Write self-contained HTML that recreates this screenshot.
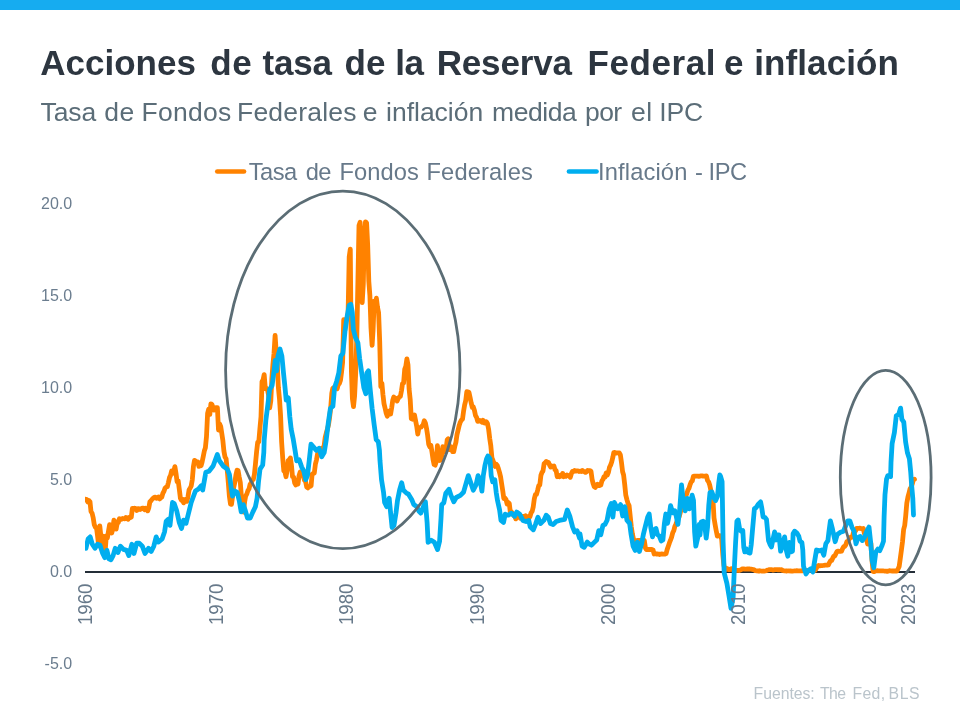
<!DOCTYPE html>
<html lang="es">
<head>
<meta charset="utf-8">
<title>Acciones de tasa de la Reserva Federal e inflación</title>
<style>
  html,body{margin:0;padding:0;background:#fff;}
  body{width:960px;height:720px;overflow:hidden;position:relative;font-family:"Liberation Sans",Arial,sans-serif;}
  .topbar{position:absolute;left:0;top:0;width:960px;height:10px;background:#16acf0;}
  svg{position:absolute;left:0;top:0;font-family:"Liberation Sans",Arial,sans-serif;}
  text{white-space:pre;}
  .t1{font-weight:bold;fill:#2d3640;}
  .t2{fill:#5b6d78;}
  .lg{fill:#67798a;}
  .yl{fill:#6b7d8f;font-size:16px;text-anchor:end;}
  .xl{fill:#67798a;font-size:18.67px;text-anchor:end;}
  .ft{fill:#bac4cb;}
</style>
</head>
<body>
<div class="topbar"></div>
<svg width="960" height="720" viewBox="0 0 960 720">
  <text class="t1" y="74.5" font-size="35.0"><tspan x="40.2" letter-spacing="0.02">Acciones </tspan><tspan x="210.2" letter-spacing="0.60">de </tspan><tspan x="262.5" letter-spacing="-0.20">tasa </tspan><tspan x="344.5" letter-spacing="0.12">de </tspan><tspan x="395.3" letter-spacing="-0.60">la </tspan><tspan x="436.7" letter-spacing="-0.16">Reserva </tspan><tspan x="587.5" letter-spacing="0.57">Federal </tspan><tspan x="724.0">e </tspan><tspan x="754.2" letter-spacing="0.10">inflación</tspan></text>
  <text class="t2" y="120.5" font-size="26.5"><tspan x="40.5" letter-spacing="-0.08">Tasa </tspan><tspan x="104.2" letter-spacing="0.60">de </tspan><tspan x="141.5" letter-spacing="0.27">Fondos </tspan><tspan x="237.0" letter-spacing="0.20">Federales </tspan><tspan x="362.8">e </tspan><tspan x="386.0">inflación </tspan><tspan x="492.0" letter-spacing="-0.44">medida </tspan><tspan x="585.0" letter-spacing="-0.60">por </tspan><tspan x="630.9" letter-spacing="0.60">el </tspan><tspan x="659.2" letter-spacing="-0.12">IPC</tspan></text>
  <text class="lg" y="180.0" font-size="23.7"><tspan x="248.7" letter-spacing="-0.52">Tasa </tspan><tspan x="305.8" letter-spacing="-0.60">de </tspan><tspan x="339.5" letter-spacing="0.07">Fondos </tspan><tspan x="426.5" letter-spacing="0.13">Federales</tspan></text>
  <text class="lg" y="180.0" font-size="23.7"><tspan x="598.0" letter-spacing="0.14">Inflación </tspan><tspan x="695.0">- </tspan><tspan x="708.5" letter-spacing="-0.44">IPC</tspan></text>
  <text class="ft" y="698.6" font-size="15.8"><tspan x="753.6" letter-spacing="-0.05">Fuentes: </tspan><tspan x="819.9" letter-spacing="-0.60">The </tspan><tspan x="852.5" letter-spacing="0.33">Fed, </tspan><tspan x="888.6" letter-spacing="0.60">BLS</tspan></text>
  <line x1="217.3" y1="171.5" x2="244" y2="171.5" stroke="#ff8200" stroke-width="4.7" stroke-linecap="round"/>
  <line x1="569" y1="171.5" x2="596.5" y2="171.5" stroke="#00aeef" stroke-width="4.7" stroke-linecap="round"/>
  <text class="yl" x="72.2" y="208.7">20.0</text>
  <text class="yl" x="72.2" y="300.7">15.0</text>
  <text class="yl" x="72.2" y="392.7">10.0</text>
  <text class="yl" x="72.2" y="484.7">5.0</text>
  <text class="yl" x="72.2" y="576.7">0.0</text>
  <text class="yl" x="72.2" y="668.7">-5.0</text>
  <clipPath id="plot"><rect x="85" y="190" width="840" height="440"/></clipPath>
  <line x1="85" y1="572.1" x2="915" y2="572.1" stroke="#242e38" stroke-width="2"/>
  <path clip-path="url(#plot)" d="M85.6,499.2 L86.7,499.6 L87.8,502.0 L88.9,500.5 L90.0,501.8 L91.0,511.5 L92.1,513.2 L93.2,517.8 L94.3,524.8 L95.4,527.2 L96.5,527.7 L97.6,536.1 L98.7,545.9 L99.8,525.9 L100.8,535.4 L101.9,545.1 L103.0,536.1 L104.1,540.7 L105.2,551.0 L106.3,535.8 L107.4,538.0 L108.5,531.0 L109.6,524.6 L110.7,529.7 L111.7,533.0 L112.8,529.0 L113.9,520.2 L115.0,521.5 L116.1,529.2 L117.2,523.3 L118.3,522.7 L119.4,518.7 L120.5,519.3 L121.5,519.3 L122.6,518.5 L123.7,518.7 L124.8,518.9 L125.9,517.4 L127.0,517.8 L128.1,519.3 L129.2,517.4 L130.3,517.6 L131.3,517.1 L132.4,508.4 L133.5,508.6 L134.6,508.2 L135.7,508.6 L136.8,510.4 L137.9,508.6 L139.0,508.6 L140.1,509.5 L141.1,508.8 L142.2,508.2 L143.3,508.2 L144.4,509.7 L145.5,508.2 L146.6,509.2 L147.7,510.8 L148.8,507.9 L149.9,501.8 L150.9,500.9 L152.0,499.4 L153.1,498.3 L154.2,497.4 L155.3,497.2 L156.4,498.3 L157.5,497.4 L158.6,496.9 L159.7,498.9 L160.8,497.6 L161.8,497.2 L162.9,493.2 L164.0,491.3 L165.1,488.0 L166.2,487.1 L167.3,486.8 L168.4,482.5 L169.5,477.6 L170.6,475.2 L171.6,471.0 L172.7,473.4 L173.8,471.0 L174.9,466.7 L176.0,473.4 L177.1,481.8 L178.2,480.7 L179.3,489.3 L180.4,498.1 L181.4,500.2 L182.5,499.4 L183.6,502.9 L184.7,500.9 L185.8,499.2 L186.9,501.3 L188.0,496.7 L189.1,489.7 L190.2,488.0 L191.2,486.0 L192.3,479.8 L193.4,466.7 L194.5,460.3 L195.6,461.1 L196.7,462.0 L197.8,461.8 L198.9,466.4 L200.0,464.0 L201.1,465.6 L202.1,462.0 L203.2,456.8 L204.3,451.1 L205.4,447.8 L206.5,436.5 L207.6,413.3 L208.7,409.1 L209.8,414.4 L210.9,403.8 L211.9,404.5 L213.0,407.3 L214.1,410.0 L215.2,407.8 L216.3,407.6 L217.4,407.6 L218.5,430.0 L219.6,423.8 L220.7,426.5 L221.7,432.8 L222.8,440.1 L223.9,451.0 L225.0,457.0 L226.1,458.7 L227.2,469.7 L228.3,482.5 L229.4,496.5 L230.5,504.2 L231.5,504.4 L232.6,496.3 L233.7,487.5 L234.8,482.4 L235.9,475.0 L237.0,470.2 L238.1,470.6 L239.2,477.0 L240.3,482.4 L241.4,496.5 L242.4,508.2 L243.5,512.1 L244.6,502.2 L245.7,495.9 L246.8,494.1 L247.9,490.6 L249.0,489.0 L250.1,484.4 L251.2,483.1 L252.2,480.0 L253.3,479.6 L254.4,474.6 L255.5,463.4 L256.6,451.7 L257.7,442.3 L258.8,441.8 L259.9,428.6 L261.0,416.6 L262.0,381.6 L263.1,379.7 L264.2,374.6 L265.3,388.7 L266.4,388.3 L267.5,389.8 L268.6,395.3 L269.7,407.8 L270.8,400.8 L271.8,379.5 L272.9,364.8 L274.0,353.5 L275.1,335.3 L276.2,352.0 L277.3,364.3 L278.4,387.8 L279.5,399.0 L280.6,415.9 L281.6,441.6 L282.7,457.9 L283.8,470.8 L284.9,471.7 L286.0,476.7 L287.1,470.6 L288.2,460.5 L289.3,459.8 L290.4,457.9 L291.5,465.6 L292.5,476.7 L293.6,477.0 L294.7,483.1 L295.8,484.9 L296.9,483.6 L298.0,484.0 L299.1,475.4 L300.2,471.9 L301.3,475.0 L302.3,475.4 L303.4,476.1 L304.5,480.3 L305.6,481.6 L306.7,487.1 L307.8,487.9 L308.9,486.6 L310.0,486.4 L311.1,485.7 L312.1,474.3 L313.2,473.5 L314.3,473.0 L315.4,464.2 L316.5,459.8 L317.6,453.7 L318.7,453.0 L319.8,452.1 L320.9,449.5 L321.9,448.0 L323.0,447.8 L324.1,446.0 L325.2,437.4 L326.3,433.0 L327.4,429.1 L328.5,424.9 L329.6,417.4 L330.7,408.0 L331.8,393.3 L332.8,388.3 L333.9,387.6 L335.0,387.8 L336.1,387.2 L337.2,388.7 L338.3,384.5 L339.4,383.6 L340.5,380.3 L341.6,371.6 L342.6,362.6 L343.7,319.7 L344.8,330.5 L345.9,319.5 L347.0,318.8 L348.1,313.1 L349.2,256.9 L350.3,249.2 L351.4,370.9 L352.4,398.6 L353.5,406.7 L354.6,396.1 L355.7,372.9 L356.8,337.3 L357.9,281.5 L359.0,225.5 L360.1,222.2 L361.2,280.0 L362.2,302.6 L363.3,283.9 L364.4,232.5 L365.5,221.8 L366.6,222.9 L367.7,245.3 L368.8,281.1 L369.9,295.6 L371.0,328.1 L372.1,345.4 L373.1,329.8 L374.2,301.1 L375.3,303.0 L376.4,298.2 L377.5,307.2 L378.6,312.7 L379.7,341.3 L380.8,386.7 L381.9,383.2 L382.9,394.2 L384.0,403.6 L385.1,408.2 L386.2,413.1 L387.3,416.3 L388.4,411.5 L389.5,410.9 L390.6,414.1 L391.7,407.6 L392.7,400.5 L393.8,397.0 L394.9,399.0 L396.0,398.4 L397.1,401.0 L398.2,398.6 L399.3,397.0 L400.4,396.4 L401.5,390.6 L402.5,383.6 L403.6,383.0 L404.7,369.4 L405.8,366.3 L406.9,358.8 L408.0,365.0 L409.1,389.1 L410.2,399.4 L411.3,418.6 L412.4,419.2 L413.4,416.4 L414.5,415.0 L415.6,420.7 L416.7,426.2 L417.8,434.2 L418.9,427.8 L420.0,427.5 L421.1,427.1 L422.2,425.8 L423.2,424.7 L424.3,420.7 L425.4,423.0 L426.5,428.2 L427.6,435.2 L428.7,444.2 L429.8,446.7 L430.9,445.4 L432.0,452.1 L433.0,459.2 L434.1,464.4 L435.2,465.1 L436.3,461.6 L437.4,445.6 L438.5,454.4 L439.6,460.5 L440.7,460.0 L441.8,455.5 L442.8,446.7 L443.9,448.9 L445.0,451.7 L446.1,448.9 L447.2,439.9 L448.3,438.7 L449.4,449.7 L450.5,448.2 L451.6,447.1 L452.6,451.7 L453.7,451.7 L454.8,446.4 L455.9,442.3 L457.0,434.6 L458.1,430.2 L459.2,425.4 L460.3,422.1 L461.4,420.1 L462.5,419.2 L463.5,411.7 L464.6,405.1 L465.7,400.7 L466.8,391.7 L467.9,391.8 L469.0,392.4 L470.1,397.5 L471.2,402.9 L472.3,407.4 L473.3,406.9 L474.4,410.2 L475.5,415.5 L476.6,417.4 L477.7,421.4 L478.8,421.2 L479.9,420.5 L481.0,420.8 L482.1,422.3 L483.1,420.3 L484.2,422.9 L485.3,423.2 L486.4,421.9 L487.5,423.6 L488.6,429.1 L489.7,438.3 L490.8,445.6 L491.9,457.8 L492.9,460.1 L494.0,464.0 L495.1,466.4 L496.2,464.2 L497.3,465.6 L498.4,468.6 L499.5,472.4 L500.6,476.8 L501.7,484.2 L502.8,491.2 L503.8,498.5 L504.9,498.0 L506.0,499.4 L507.1,504.0 L508.2,502.4 L509.3,503.5 L510.4,512.8 L511.5,511.9 L512.6,513.4 L513.6,515.6 L514.7,515.8 L515.8,518.9 L516.9,517.1 L518.0,516.9 L519.1,516.1 L520.2,518.2 L521.3,517.4 L522.4,516.7 L523.4,516.3 L524.5,516.9 L525.6,515.8 L526.7,517.6 L527.8,517.1 L528.9,518.2 L530.0,516.5 L531.1,512.8 L532.2,511.2 L533.2,507.1 L534.3,498.9 L535.4,494.5 L536.5,494.3 L537.6,490.4 L538.7,485.7 L539.8,485.1 L540.9,475.4 L542.0,472.4 L543.0,471.0 L544.1,463.8 L545.2,462.7 L546.3,461.4 L547.4,462.2 L548.5,462.3 L549.6,465.1 L550.7,467.1 L551.8,466.0 L552.9,466.7 L553.9,466.0 L555.0,469.7 L556.1,470.4 L557.2,476.7 L558.3,475.0 L559.4,476.7 L560.5,476.3 L561.6,475.7 L562.7,473.4 L563.7,476.7 L564.8,475.2 L565.9,476.3 L567.0,475.0 L568.1,475.4 L569.2,476.1 L570.3,477.2 L571.4,473.5 L572.5,471.3 L573.5,471.5 L574.6,470.4 L575.7,471.2 L576.8,470.8 L577.9,470.8 L579.0,471.5 L580.1,471.2 L581.2,471.5 L582.3,470.4 L583.3,471.3 L584.4,471.7 L585.5,472.4 L586.6,471.7 L587.7,470.4 L588.8,470.8 L589.9,470.6 L591.0,471.3 L592.1,479.4 L593.2,483.8 L594.2,486.6 L595.3,487.5 L596.4,485.1 L597.5,484.2 L598.6,485.5 L599.7,485.5 L600.8,485.1 L601.9,480.9 L603.0,479.4 L604.0,476.7 L605.1,477.0 L606.2,473.0 L607.3,475.2 L608.4,472.4 L609.5,467.3 L610.6,465.1 L611.7,462.0 L612.8,457.4 L613.8,452.6 L614.9,452.4 L616.0,453.2 L617.1,452.8 L618.2,453.0 L619.3,453.0 L620.4,455.0 L621.5,462.7 L622.6,471.7 L623.6,475.0 L624.7,484.4 L625.8,495.2 L626.9,499.6 L628.0,503.3 L629.1,505.5 L630.2,516.1 L631.3,526.8 L632.4,534.1 L633.5,539.1 L634.5,540.7 L635.6,540.6 L636.7,540.7 L637.8,540.4 L638.9,540.4 L640.0,540.4 L641.1,540.7 L642.2,540.6 L643.3,540.4 L644.3,540.4 L645.4,547.9 L646.5,549.7 L647.6,549.7 L648.7,549.4 L649.8,549.5 L650.9,549.4 L652.0,549.4 L653.1,550.1 L654.1,554.0 L655.2,553.6 L656.3,554.0 L657.4,554.0 L658.5,554.1 L659.6,554.5 L660.7,554.1 L661.8,554.0 L662.9,554.1 L663.9,554.1 L665.0,554.1 L666.1,553.6 L667.2,549.4 L668.3,546.2 L669.4,542.9 L670.5,540.2 L671.6,537.1 L672.7,532.8 L673.8,530.6 L674.8,526.6 L675.9,524.2 L677.0,521.3 L678.1,517.4 L679.2,516.7 L680.3,512.6 L681.4,508.2 L682.5,506.0 L683.6,503.1 L684.6,499.1 L685.7,496.1 L686.8,493.7 L687.9,490.1 L689.0,488.2 L690.1,484.6 L691.2,481.8 L692.3,480.9 L693.4,476.3 L694.4,476.1 L695.5,476.1 L696.6,476.1 L697.7,476.1 L698.8,476.3 L699.9,476.1 L701.0,475.9 L702.1,475.9 L703.2,476.1 L704.2,476.1 L705.3,476.1 L706.4,475.9 L707.5,480.3 L708.6,481.8 L709.7,485.1 L710.8,490.1 L711.9,494.7 L713.0,500.2 L714.0,517.8 L715.1,524.6 L716.2,530.6 L717.3,536.1 L718.4,535.8 L719.5,535.6 L720.6,535.8 L721.7,539.3 L722.8,554.7 L723.9,565.3 L724.9,569.6 L726.0,569.7 L727.1,568.5 L728.2,569.2 L729.3,569.7 L730.4,569.2 L731.5,568.6 L732.6,569.6 L733.7,569.6 L734.7,569.7 L735.8,570.3 L736.9,570.3 L738.0,570.3 L739.1,570.5 L740.2,570.1 L741.3,569.6 L742.4,568.8 L743.5,568.8 L744.5,569.2 L745.6,569.2 L746.7,569.0 L747.8,569.0 L748.9,569.0 L750.0,569.0 L751.1,569.2 L752.2,569.4 L753.3,569.6 L754.3,569.9 L755.4,570.7 L756.5,570.8 L757.6,570.8 L758.7,571.2 L759.8,570.7 L760.9,571.0 L762.0,571.2 L763.1,571.0 L764.2,571.2 L765.2,571.0 L766.3,570.7 L767.4,570.1 L768.5,569.9 L769.6,569.6 L770.7,569.6 L771.8,569.6 L772.9,570.1 L774.0,569.9 L775.0,569.6 L776.1,569.6 L777.2,569.6 L778.3,569.9 L779.4,569.7 L780.5,569.9 L781.6,569.7 L782.7,570.5 L783.8,570.8 L784.8,570.8 L785.9,571.0 L787.0,571.0 L788.1,570.8 L789.2,571.0 L790.3,570.8 L791.4,571.2 L792.5,571.2 L793.6,571.0 L794.6,570.8 L795.7,570.8 L796.8,570.7 L797.9,570.8 L799.0,570.8 L800.1,570.8 L801.2,570.8 L802.3,570.8 L803.4,570.3 L804.5,570.5 L805.5,570.5 L806.6,570.5 L807.7,570.3 L808.8,570.3 L809.9,570.1 L811.0,570.1 L812.1,569.9 L813.2,569.9 L814.3,570.3 L815.3,570.3 L816.4,568.1 L817.5,566.3 L818.6,565.5 L819.7,565.9 L820.8,565.7 L821.9,565.7 L823.0,565.5 L824.1,565.3 L825.1,565.2 L826.2,565.2 L827.3,565.2 L828.4,565.0 L829.5,562.6 L830.6,560.6 L831.7,560.4 L832.8,558.0 L833.9,556.0 L834.9,555.8 L836.0,553.4 L837.1,551.4 L838.2,551.2 L839.3,551.4 L840.4,551.4 L841.5,551.2 L842.6,548.6 L843.7,546.6 L844.7,546.4 L845.8,544.8 L846.9,541.5 L848.0,541.3 L849.1,539.1 L850.2,537.4 L851.3,537.4 L852.4,536.7 L853.5,532.3 L854.6,532.1 L855.6,530.8 L856.7,528.4 L857.8,528.4 L858.9,528.3 L860.0,528.1 L861.1,528.6 L862.2,528.8 L863.3,528.4 L864.4,533.4 L865.4,535.0 L866.5,538.9 L867.6,544.0 L868.7,544.0 L869.8,544.0 L870.9,543.5 L872.0,560.6 L873.1,571.6 L874.2,571.6 L875.2,571.0 L876.3,570.8 L877.4,570.7 L878.5,570.8 L879.6,570.8 L880.7,570.8 L881.8,570.8 L882.9,570.8 L884.0,571.0 L885.0,571.2 L886.1,571.2 L887.2,571.4 L888.3,571.0 L889.4,570.7 L890.5,570.8 L891.6,571.0 L892.7,571.0 L893.8,571.0 L894.9,571.0 L895.9,571.0 L897.0,571.0 L898.1,568.8 L899.2,566.4 L900.3,558.4 L901.4,550.3 L902.5,541.7 L903.6,529.7 L904.7,525.5 L905.7,516.0 L906.8,503.1 L907.9,497.2 L909.0,493.0 L910.1,488.6 L911.2,487.1 L912.3,483.8 L913.4,479.6 L914.5,479.2" fill="none" stroke="#ff8200" stroke-width="4.8" stroke-linejoin="round" stroke-linecap="round"/>
  <path clip-path="url(#plot)" d="M86.0,548.3 L88.1,539.0 L90.2,536.9 L92.3,544.2 L95.0,548.3 L97.5,544.2 L100.0,545.2 L102.7,553.5 L104.8,557.7 L106.9,550.4 L109.0,558.8 L111.0,559.8 L113.1,555.6 L115.2,548.3 L117.9,552.5 L120.4,546.2 L123.5,549.4 L126.7,550.4 L128.8,555.6 L131.9,544.2 L134.0,553.5 L136.7,543.1 L139.2,543.1 L142.3,546.2 L145.0,553.5 L148.5,548.3 L151.2,551.5 L153.8,546.2 L156.2,536.9 L158.3,542.1 L162.1,539.0 L164.6,531.7 L166.2,521.2 L168.3,519.2 L170.0,525.4 L172.5,502.5 L174.2,503.5 L176.7,510.8 L179.2,522.3 L181.5,528.5 L183.5,520.2 L186.0,523.3 L188.1,515.0 L191.2,502.5 L195.4,491.0 L198.5,489.0 L201.2,485.8 L202.7,490.0 L205.8,472.3 L209.0,471.2 L213.1,466.0 L217.3,454.6 L219.4,460.8 L222.5,465.0 L223.1,466.0 L227.3,469.2 L229.4,474.4 L231.5,490.0 L232.5,496.2 L234.6,491.0 L237.1,492.1 L239.2,500.4 L241.2,511.9 L243.3,504.6 L245.4,510.8 L247.5,518.1 L250.2,518.1 L252.9,511.9 L255.4,506.7 L257.1,498.3 L258.5,481.7 L260.0,469.2 L262.7,465.0 L263.8,452.5 L264.2,440.0 L265.8,420.8 L267.9,404.2 L269.6,389.6 L272.1,385.4 L273.8,372.9 L275.2,360.4 L276.7,370.8 L277.9,356.2 L280.0,349.0 L281.9,356.2 L283.5,372.9 L285.0,387.5 L286.2,400.0 L288.3,397.9 L289.8,416.7 L291.2,429.2 L293.3,439.6 L295.0,450.0 L296.7,460.8 L299.2,459.8 L301.7,467.1 L303.8,471.2 L305.8,479.6 L307.5,475.4 L309.2,460.8 L311.0,444.2 L313.8,447.3 L316.2,450.4 L319.0,448.3 L321.7,456.7 L324.2,452.5 L326.2,440.0 L328.3,422.9 L330.4,408.3 L332.9,406.2 L334.6,387.5 L336.7,381.2 L338.8,372.9 L340.8,356.2 L342.9,353.1 L345.0,331.2 L347.1,316.7 L349.2,305.2 L350.8,304.2 L352.3,312.5 L353.3,329.2 L355.4,337.5 L357.9,342.7 L359.6,358.3 L361.7,372.9 L363.8,387.5 L365.8,393.8 L366.9,372.9 L368.5,370.8 L370.0,387.5 L372.1,408.3 L374.2,425.0 L376.2,439.6 L378.3,441.7 L379.4,450.0 L380.0,460.8 L381.5,479.6 L383.5,492.1 L384.6,502.5 L386.7,506.7 L389.2,498.3 L390.4,510.8 L392.1,527.5 L394.0,525.4 L396.0,512.9 L397.5,500.4 L399.6,490.0 L401.7,482.7 L403.3,490.0 L406.5,493.1 L408.5,494.2 L411.7,499.4 L413.8,504.6 L416.9,506.7 L418.8,511.0 L420.8,513.1 L422.9,507.9 L425.4,501.7 L427.1,522.5 L428.1,542.3 L431.2,540.2 L434.4,542.3 L437.5,549.6 L439.6,541.2 L441.0,518.3 L441.7,504.8 L443.8,502.7 L445.8,493.3 L449.0,489.2 L451.0,495.4 L453.8,501.7 L456.2,497.5 L460.4,495.4 L463.5,492.3 L466.2,482.9 L468.3,475.6 L470.8,482.9 L473.3,490.2 L476.0,485.0 L478.1,475.6 L480.2,480.8 L481.9,491.2 L483.3,475.6 L485.0,465.2 L486.5,459.0 L487.9,456.0 L490.0,459.0 L491.2,475.6 L492.7,481.9 L494.8,479.8 L496.2,492.3 L497.5,500.6 L499.6,510.0 L501.0,520.4 L503.5,522.5 L505.2,514.2 L508.3,515.2 L511.5,513.1 L514.6,516.2 L516.7,512.1 L519.8,514.2 L522.9,520.4 L526.0,521.5 L528.8,520.4 L530.2,526.7 L533.3,529.8 L535.4,524.6 L537.9,517.3 L540.6,523.5 L543.8,520.4 L546.2,515.2 L548.3,517.3 L550.4,523.5 L553.1,524.6 L556.2,521.5 L559.4,520.4 L564.6,519.4 L567.3,510.0 L569.8,516.2 L572.5,526.7 L574.6,531.9 L577.1,530.8 L579.6,538.1 L580.0,533.8 L582.1,546.2 L584.2,547.3 L587.3,542.1 L589.4,544.2 L591.5,545.2 L593.5,543.1 L596.7,540.0 L598.8,530.6 L600.8,534.8 L602.9,525.4 L605.0,524.4 L607.1,520.2 L609.2,508.8 L611.2,503.5 L612.9,517.1 L614.4,502.5 L617.5,508.8 L620.6,504.6 L622.7,516.0 L624.8,506.7 L626.9,520.2 L629.6,523.3 L631.0,533.8 L633.1,546.2 L635.2,550.4 L637.3,542.1 L639.4,551.5 L641.5,544.2 L643.5,533.8 L645.6,525.4 L647.7,517.1 L649.2,514.0 L650.8,527.5 L652.5,536.9 L654.6,529.6 L656.0,528.5 L657.5,534.8 L659.2,535.8 L661.2,541.0 L662.9,540.0 L664.4,523.3 L665.8,514.0 L667.5,523.3 L669.2,515.0 L670.6,505.6 L672.7,512.9 L674.8,510.8 L676.2,516.0 L677.9,524.4 L679.6,510.8 L681.5,484.8 L683.1,499.4 L685.2,510.8 L687.3,498.3 L689.4,508.8 L692.1,495.2 L693.5,500.4 L694.6,531.7 L695.8,546.2 L697.7,537.9 L699.2,524.4 L700.0,535.0 L701.2,521.9 L703.1,521.2 L704.4,522.5 L706.2,538.1 L707.5,527.5 L708.8,505.0 L710.0,492.5 L711.9,491.9 L713.8,497.5 L715.6,500.6 L717.5,496.2 L718.8,482.5 L719.8,475.0 L720.6,476.5 L722.1,481.7 L723.1,541.7 L724.2,572.9 L726.9,583.3 L729.0,595.8 L731.0,608.3 L733.1,597.9 L734.6,562.5 L735.6,542.5 L736.9,521.2 L738.1,520.0 L739.8,530.0 L741.2,531.2 L742.8,530.6 L743.8,547.5 L744.8,551.9 L746.2,548.8 L748.1,552.5 L750.0,553.1 L751.2,545.0 L752.5,530.0 L754.4,508.8 L756.2,507.5 L758.1,504.4 L760.6,501.9 L761.9,508.8 L763.1,516.9 L765.0,517.5 L766.5,519.4 L767.5,530.0 L768.5,540.6 L770.0,544.4 L771.5,546.9 L773.1,538.8 L774.6,531.9 L776.2,540.0 L777.5,535.0 L779.0,535.0 L780.6,551.2 L782.5,545.0 L784.6,536.9 L786.2,550.0 L787.8,556.2 L789.4,542.5 L790.6,551.9 L792.5,551.2 L793.1,533.8 L794.6,531.2 L796.9,533.1 L798.8,536.2 L800.0,541.2 L801.9,542.5 L802.8,550.0 L803.5,566.2 L806.0,574.0 L808.1,570.8 L810.8,568.8 L812.9,571.9 L814.4,562.5 L816.5,550.0 L818.5,551.0 L821.7,550.0 L823.8,555.2 L825.8,543.8 L827.9,540.6 L829.0,531.2 L830.4,520.8 L832.5,529.2 L835.2,541.7 L837.3,534.4 L840.4,532.3 L843.5,531.2 L845.6,526.0 L847.7,520.8 L849.8,520.8 L851.9,527.1 L854.0,531.2 L856.0,543.8 L858.1,537.5 L860.2,536.5 L862.3,540.6 L864.4,537.5 L866.9,531.2 L869.0,527.1 L870.6,541.7 L872.1,560.4 L873.8,567.7 L875.8,552.1 L877.9,549.0 L879.8,550.6 L882.2,545.0 L883.5,541.3 L884.1,516.9 L885.0,494.4 L886.5,479.4 L887.8,475.6 L890.6,476.6 L891.0,462.5 L892.1,443.8 L894.4,432.5 L896.3,415.6 L898.5,414.7 L900.6,408.1 L901.9,419.4 L903.8,422.2 L905.6,441.9 L907.5,453.1 L909.4,458.8 L910.7,471.9 L911.6,485.0 L912.8,498.1 L913.5,515.0" fill="none" stroke="#00aeef" stroke-width="4.8" stroke-linejoin="round" stroke-linecap="round"/>
  <ellipse cx="342.8" cy="369.9" rx="117.2" ry="178.8" fill="none" stroke="#5b6d75" stroke-width="2.8"/>
  <ellipse cx="885.7" cy="477.6" rx="45.4" ry="107.2" fill="none" stroke="#5b6d75" stroke-width="2.8"/>
  <text class="xl" transform="translate(91.8,583.5) rotate(-90) scale(1,1.06)">1960</text>
  <text class="xl" transform="translate(222.5,583.5) rotate(-90) scale(1,1.06)">1970</text>
  <text class="xl" transform="translate(353.2,583.5) rotate(-90) scale(1,1.06)">1980</text>
  <text class="xl" transform="translate(483.9,583.5) rotate(-90) scale(1,1.06)">1990</text>
  <text class="xl" transform="translate(614.6,583.5) rotate(-90) scale(1,1.06)">2000</text>
  <text class="xl" transform="translate(745.3,583.5) rotate(-90) scale(1,1.06)">2010</text>
  <text class="xl" transform="translate(876,583.5) rotate(-90) scale(1,1.06)">2020</text>
  <text class="xl" transform="translate(915.2,583.5) rotate(-90) scale(1,1.06)">2023</text>
</svg>
</body>
</html>
